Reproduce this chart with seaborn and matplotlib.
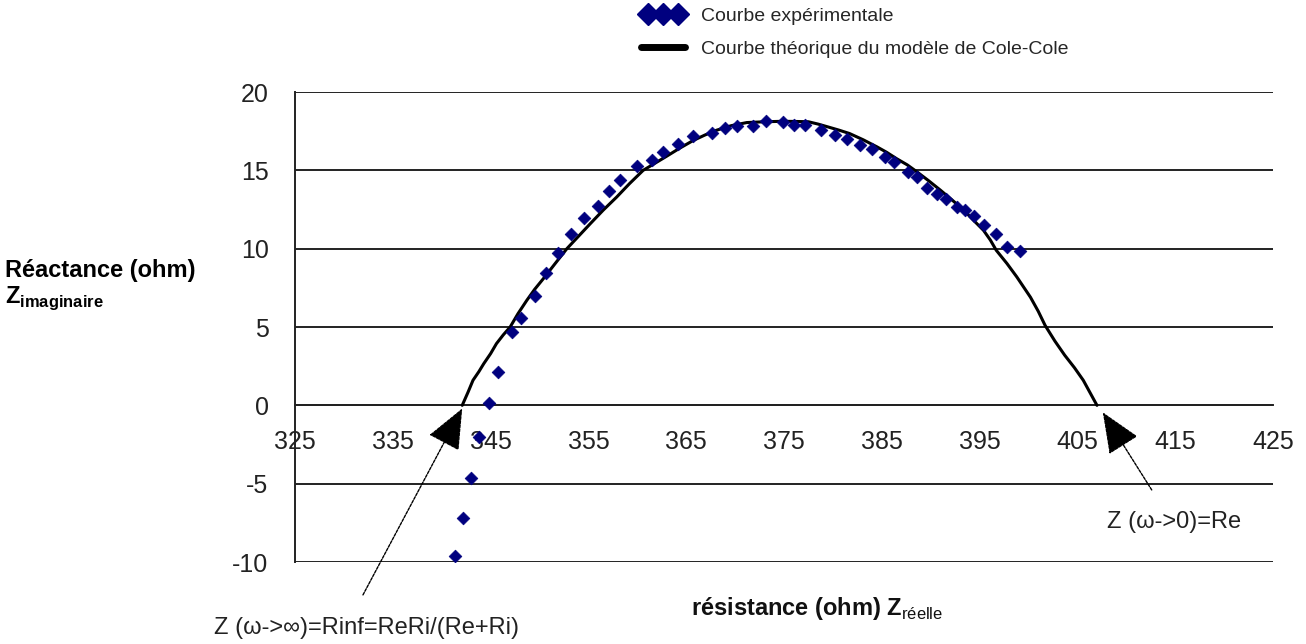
import matplotlib
matplotlib.use("Agg")
import matplotlib.pyplot as plt
import seaborn as sns
import pandas as pd
from matplotlib.lines import Line2D
from matplotlib.legend_handler import HandlerLine2D

# ---- data ----
exp_x = [341.4, 342.2, 343.0, 343.8, 344.8, 345.8, 347.2, 348.1, 349.5, 350.7,
         351.9, 353.2, 354.6, 356.0, 357.1, 358.2, 360.0, 361.5, 362.6, 364.2,
         365.7, 367.6, 369.0, 370.2, 371.8, 373.2, 374.9, 376.0, 377.1, 378.8,
         380.2, 381.4, 382.8, 384.0, 385.3, 386.2, 387.7, 388.6, 389.6, 390.6,
         391.6, 392.7, 393.5, 394.4, 395.4, 396.7, 397.8, 399.1]
exp_y = [-9.6, -7.2, -4.65, -2.0, 0.15, 2.1, 4.7, 5.55, 7.0, 8.45,
         9.75, 10.95, 11.95, 12.75, 13.7, 14.4, 15.25, 15.65, 16.2, 16.7,
         17.2, 17.4, 17.7, 17.85, 17.85, 18.15, 18.1, 17.9, 17.9, 17.55,
         17.25, 17.0, 16.6, 16.35, 15.85, 15.55, 14.9, 14.55, 13.9, 13.5,
         13.2, 12.65, 12.45, 12.1, 11.5, 10.95, 10.1, 9.85]

theo_x = [342.1, 342.7, 343.2, 343.8, 344.3, 345.0, 345.6, 346.3, 347.0, 347.8,
          348.7, 349.5, 350.4, 351.6, 352.8, 354.0, 355.2, 356.5, 357.9, 359.2,
          360.6, 361.8, 363.0, 364.3, 365.7, 366.9, 368.1, 369.6, 371.2, 373.0,
          374.9, 376.2, 377.5, 378.5, 379.5, 380.6, 381.7, 383.1, 384.5, 385.5,
          386.5, 387.6, 388.6, 389.8, 391.0, 392.2, 393.4, 394.4, 395.4, 396.1,
          396.7, 397.8, 398.8, 399.5, 400.2, 401.0, 401.7, 402.7, 403.7, 404.7,
          405.6, 406.3, 407.0]
theo_y = [0.0, 0.85, 1.6, 2.15, 2.66, 3.3, 3.94, 4.5, 5.0, 5.85,
          6.7, 7.4, 8.09, 9.05, 10.0, 10.8, 11.6, 12.45, 13.3, 14.15,
          15.0, 15.45, 15.9, 16.4, 16.9, 17.25, 17.56, 17.85, 18.05, 18.1,
          18.13, 18.12, 18.1, 17.95, 17.77, 17.57, 17.35, 16.95, 16.5, 16.15,
          15.75, 15.35, 14.9, 14.33, 13.73, 13.1, 12.45, 11.8, 11.17, 10.55,
          9.9, 9.05, 8.2, 7.55, 6.9, 6.0, 5.1, 4.1, 3.2, 2.4,
          1.6, 0.8, 0.0]

x_ticks = [325, 335, 345, 355, 365, 375, 385, 395, 405, 415, 425]
y_ticks = [-10, -5, 0, 5, 10, 15, 20]

legend_labels = ["Courbe expérimentale", "Courbe théorique du modèle de Cole-Cole"]
ann_inf = "Z (ω->∞)=Rinf=ReRi/(Re+Ri)"
ann_zero = "Z (ω->0)=Re"
inf_head, inf_tail = (342.1, -0.2), (331.95, -12.1)
zero_head, zero_tail = (407.6, -0.45), (412.6, -5.4)

# ---- style ----
sns.set_theme(style="white")
plt.rcParams["font.family"] = ["Liberation Sans", "DejaVu Sans"]
plt.rcParams["mathtext.fontset"] = "custom"
plt.rcParams["mathtext.rm"] = "Liberation Sans"
plt.rcParams["mathtext.bf"] = "Liberation Sans:bold"

NAVY = "#00007f"
DARK = "#222222"
fig = plt.figure(figsize=(13.06, 6.44), dpi=100)
ax = fig.add_axes([295 / 1306, 1 - 562 / 644, (1273 - 295) / 1306, (562 - 92) / 644])

df_exp = pd.DataFrame({"x": exp_x, "y": exp_y})
df_theo = pd.DataFrame({"x": theo_x, "y": theo_y})

sns.lineplot(data=df_theo, x="x", y="y", sort=False, color="black", lw=2.2,
             ax=ax, zorder=3)
sns.scatterplot(data=df_exp, x="x", y="y", marker="D", s=42, color=NAVY,
                edgecolor=NAVY, linewidth=0.5, ax=ax, zorder=4)

ax.set_xlim(325, 425)
ax.set_ylim(-10, 20)
ax.set_xticks(x_ticks)
ax.set_yticks(y_ticks)
ax.set_xticklabels([str(t) for t in x_ticks])
ax.set_yticklabels([str(t) for t in y_ticks])
ax.set_xlabel("")
ax.set_ylabel("")

for s in ["top", "right"]:
    ax.spines[s].set_visible(False)
ax.spines["bottom"].set_position(("data", 0))
for s in ["bottom", "left"]:
    ax.spines[s].set_color(DARK)
    ax.spines[s].set_linewidth(1.4)

ax.grid(axis="y", color=DARK, lw=1.4)
ax.grid(axis="x", visible=False)
ax.set_axisbelow(True)

ax.tick_params(axis="x", direction="out", length=7, width=1.2, color=DARK,
               pad=11, labelsize=18, labelcolor=DARK)
ax.tick_params(axis="y", direction="inout", length=12, width=1.2, color=DARK,
               pad=13, labelsize=18, labelcolor=DARK)

# annotations
arrow_kw = dict(arrowstyle="-|>,head_length=1.3,head_width=0.55", lw=1.0,
                color="black", mutation_scale=20, shrinkA=0, shrinkB=0,
                linestyle=(0, (2, 1)))
ax.annotate("", xy=inf_head, xytext=inf_tail, arrowprops=arrow_kw,
            annotation_clip=False)
ax.annotate("", xy=zero_head, xytext=zero_tail, arrowprops=arrow_kw,
            annotation_clip=False)
fig.text(367 / 1306, 1 - 628 / 644, ann_inf, ha="center", va="center",
         fontsize=17, color=DARK)
fig.text(1174 / 1306, 1 - 522 / 644, ann_zero, ha="center", va="center",
         fontsize=17, color=DARK)

# axis titles
fig.text(5 / 1306, 1 - 270 / 644, "Réactance (ohm)", ha="left", va="center",
         fontsize=17, fontweight="bold", color="black")
fig.text(5 / 1306, 1 - 298 / 644, r"Z$_{\mathbf{imaginaire}}$", ha="left",
         va="center", fontsize=17, fontweight="bold", color="black")
fig.text(817 / 1306, 1 - 608 / 644, r"résistance (ohm) Z$_{\mathrm{réelle}}$",
         ha="center", va="center", fontsize=17, fontweight="bold", color="#111111")

# legend
handles = [Line2D([], [], marker="D", ls="", color=NAVY, markersize=11,
                  markeredgecolor=NAVY),
           Line2D([], [], color="black", lw=5)]
fig.legend(handles, legend_labels, loc="upper left",
           bbox_to_anchor=(635 / 1306, 1 - 7 / 644), frameon=False,
           fontsize=14, numpoints=3, handlelength=2.85, handletextpad=0.55,
           labelspacing=0.8, borderaxespad=0, borderpad=0,
           handler_map={handles[0]: HandlerLine2D(marker_pad=0.65)})

fig.savefig("out.png", dpi=100)
